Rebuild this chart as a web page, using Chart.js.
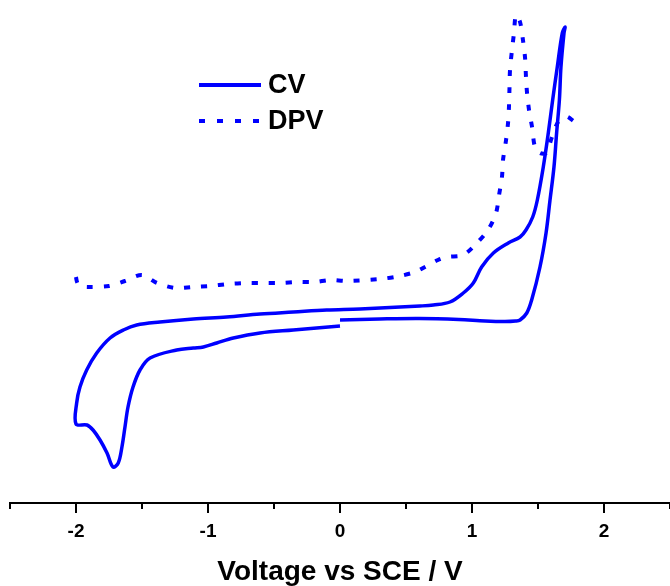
<!DOCTYPE html>
<html>
<head>
<meta charset="utf-8">
<script src="https://cdn.jsdelivr.net/npm/chart.js@4.4.1/dist/chart.umd.min.js"></script>
<style>
html,body{margin:0;padding:0;background:#fff;}
#wrap{width:670px;height:586px;position:relative;}
</style>
</head>
<body>
<div id="wrap"><canvas id="c" width="670" height="586"></canvas></div>
<script>
// Cyclic voltammetry (CV) scan: 0 V -> +1.7 V -> -2.0 V -> 0 V
const cvVoltage = [
  0.00, 0.30, 0.60, 0.90, 1.10, 1.25, 1.33, 1.364, 1.415, 1.452, 1.515, 1.561, 1.591, 1.621, 1.641, 1.662, 1.674, 1.697, 1.705,
  1.684, 1.646, 1.611, 1.578, 1.540, 1.495, 1.460, 1.409, 1.364, 1.275, 1.162, 1.073, 1.010, 0.934, 0.833, 0.707, 0.606,
  0.152, -0.101, -0.354, -0.606, -0.859, -1.111, -1.364, -1.540, -1.641, -1.742, -1.843, -1.919, -1.970, -1.995, -2.000,
  -1.917, -1.871, -1.818, -1.765, -1.720, -1.680, -1.652, -1.629, -1.606, -1.568, -1.515, -1.439, -1.237, -1.111, -1.035,
  -0.934, -0.808, -0.606, -0.354, 0.00
];
const cvCurrent = [
  0.0, 0.1, 0.15, 0.05, -0.1, -0.15, -0.1, 0.0, 0.7, 2.0, 5.3, 8.7, 12.0, 15.3, 18.7, 22.0, 25.3, 28.7, 29.3,
  28.7, 25.3, 22.0, 18.7, 15.3, 12.0, 10.3, 9.0, 8.3, 7.7, 6.7, 5.3, 3.7, 2.7, 1.8, 1.5, 1.4,
  1.1, 1.0, 0.8, 0.6, 0.3, 0.1, -0.2, -0.5, -1.0, -1.8, -3.3, -5.0, -6.7, -8.3, -10.4,
  -10.5, -11.0, -12.0, -13.3, -14.7, -14.3, -12.7, -10.7, -8.7, -6.7, -5.0, -3.8, -3.0, -2.8, -2.7,
  -2.3, -1.8, -1.3, -1.0, -0.6
];
// Differential pulse voltammetry (DPV)
const dpvVoltage = [
  -2.0, -1.992, -1.97, -1.886, -1.75, -1.629, -1.5, -1.386, -1.25, -1.114, -0.985, -0.848, -0.705, -0.583, -0.455, -0.318,
  -0.189, -0.076, 0.053, 0.303, 0.455, 0.568, 0.644, 0.742, 0.811, 0.932, 1.023, 1.121, 1.182, 1.205, 1.227, 1.235, 1.258,
  1.273, 1.280, 1.284, 1.288, 1.303, 1.318, 1.333, 1.364, 1.386, 1.402, 1.409, 1.417, 1.432, 1.455, 1.477, 1.515, 1.561,
  1.606, 1.652, 1.705, 1.727, 1.780, 1.803
];
const dpvCurrent = [
  4.3, 3.8, 3.4, 3.3, 3.4, 3.9, 4.5, 3.7, 3.2, 3.3, 3.4, 3.6, 3.7, 3.7, 3.7, 3.8,
  3.8, 4.0, 3.9, 4.1, 4.4, 4.8, 5.3, 6.0, 6.3, 6.5, 7.5, 9.0, 10.7, 12.5, 14.3, 16.0, 18.0,
  19.7, 21.3, 23.2, 25.0, 27.0, 28.7, 30.5, 29.8, 28.0, 26.2, 24.3, 22.7, 21.0, 19.3, 17.3, 16.7, 16.7,
  18.3, 19.8, 20.3, 20.3, 19.8, 19.7
];
const xTickValues = [-2.5, -2, -1.5, -1, -0.5, 0, 0.5, 1, 1.5, 2, 2.5];
const xTickLabels = {'-2': '-2', '-1': '-1', '0': '0', '1': '1', '2': '2'};
const seriesNames = ['CV', 'DPV'];

const BLUE = '#0000ff';
const FONT = '"Liberation Sans", Arial, sans-serif';

const cvData = cvVoltage.map((v, i) => ({x: v, y: cvCurrent[i]}));
const dpvData = dpvVoltage.map((v, i) => ({x: v, y: dpvCurrent[i]}));

const tickPlugin = {
  id: 'customTicks',
  afterDraw(chart) {
    const ctx = chart.ctx;
    const xs = chart.scales.x;
    const yb = chart.chartArea.bottom;
    ctx.save();
    ctx.strokeStyle = '#000';
    ctx.lineWidth = 2;
    xTickValues.forEach(v => {
      const px = Math.round(xs.getPixelForValue(v));
      const major = Number.isInteger(v);
      ctx.beginPath();
      ctx.moveTo(px, yb);
      ctx.lineTo(px, yb + (major ? 10 : 6));
      ctx.stroke();
    });
    ctx.restore();
  }
};

const legendPlugin = {
  id: 'customLegend',
  afterDraw(chart) {
    const ctx = chart.ctx;
    const x0 = 199, x1 = 261;
    const rows = [{y: 85, dash: []}, {y: 121, dash: [6, 12]}];
    ctx.save();
    rows.forEach((r, i) => {
      ctx.strokeStyle = BLUE;
      ctx.lineWidth = 4;
      ctx.setLineDash(r.dash);
      ctx.beginPath();
      ctx.moveTo(x0, r.y);
      ctx.lineTo(x1, r.y);
      ctx.stroke();
      ctx.setLineDash([]);
      ctx.fillStyle = '#000';
      ctx.font = 'bold 27px ' + FONT;
      ctx.textBaseline = 'middle';
      ctx.textAlign = 'left';
      ctx.fillText(seriesNames[i], 268, r.y + 1);
    });
    ctx.restore();
  }
};

new Chart(document.getElementById('c'), {
  type: 'line',
  data: {
    datasets: [
      {label: seriesNames[0], data: cvData, borderColor: BLUE, borderWidth: 3.5, pointRadius: 0, tension: 0.35, fill: false},
      {label: seriesNames[1], data: dpvData, borderColor: BLUE, borderWidth: 4, borderDash: [6, 11], pointRadius: 0, tension: 0.3, fill: false}
    ]
  },
  options: {
    responsive: false,
    animation: false,
    devicePixelRatio: 1,
    layout: {padding: {left: 10, right: 0, top: 0, bottom: 0}},
    plugins: {legend: {display: false}, tooltip: {enabled: false}},
    scales: {
      x: {
        type: 'linear',
        min: -2.5, max: 2.5,
        afterBuildTicks(scale) { scale.ticks = xTickValues.map(v => ({value: v})); },
        afterFit(scale) { scale.height = 83; scale.paddingRight = 0; },
        ticks: {
          autoSkip: false,
          maxRotation: 0,
          padding: 0,
          color: '#000',
          font: {family: FONT, size: 19, weight: 'bold'},
          callback: (v) => xTickLabels[String(v)] || ''
        },
        grid: {display: true, drawOnChartArea: false, drawTicks: true, tickLength: 17, tickColor: 'rgba(0,0,0,0)'},
        border: {display: true, color: '#000', width: 2},
        title: {
          display: true,
          text: 'Voltage vs SCE / V',
          color: '#000',
          font: {family: FONT, size: 28, weight: 'bold', lineHeight: 1.0},
          padding: {top: 0, bottom: 0}
        }
      },
      y: {
        type: 'linear',
        display: false,
        min: -18.3, max: 32
      }
    }
  },
  plugins: [tickPlugin, legendPlugin]
});
</script>
</body>
</html>
